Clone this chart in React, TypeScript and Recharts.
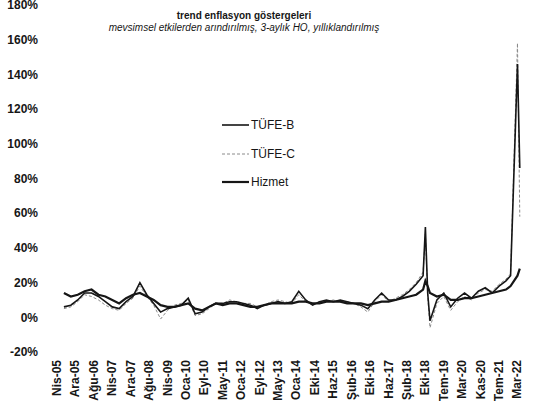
import React from 'react';
import { LineChart, Line, XAxis, YAxis } from 'recharts';

// month index: 0 = Nis-05, one step per month
const monthIdx = [
  3, 6, 9, 12, 15, 18, 21, 24, 27, 30, 33, 36, 39, 42, 45, 48, 51, 54, 57, 60,
  63, 66, 69, 72, 75, 78, 81, 84, 87, 90, 93, 96, 99, 102, 105, 108, 111, 114, 117, 120,
  123, 126, 129, 132, 135, 138, 141, 144, 147, 150, 153, 156, 159, 160, 161, 162, 165, 168, 171, 174,
  177, 180, 183, 186, 189, 192, 195, 197, 200, 201,
];

const tufeB = [
  6, 7, 10, 14, 14, 12, 9, 6, 5, 9, 12, 20, 13, 8, 3, 5, 6, 7, 11, 2,
  3, 6, 8, 8, 9, 9, 8, 7, 5, 7, 8, 9, 8, 9, 15, 10, 7, 9, 10, 9,
  10, 9, 8, 7, 5, 10, 14, 10, 10, 12, 15, 19, 24, 52, 14, -2, 10, 14, 6, 11,
  14, 11, 15, 17, 14, 18, 21, 24, 146, 86,
];

const tufeC = [
  5, 6, 9, 13, 12, 10, 7, 5, 4, 8, 11, 18, 12, 7, -1, 4, 7, 8, 10, 1,
  2, 5, 8, 8, 10, 9, 8, 8, 6, 7, 9, 10, 9, 8, 13, 9, 7, 9, 9, 10,
  9, 9, 8, 6, 3, 9, 13, 9, 11, 13, 16, 20, 26, 48, 12, -6, 8, 12, 4, 9,
  12, 10, 14, 16, 15, 19, 22, 25, 158, 58,
];

const hizmet = [
  14, 12, 13, 15, 16, 13, 12, 10, 8, 11, 13, 14, 12, 10, 7, 6, 6, 7, 8, 5,
  4, 6, 8, 7, 8, 8, 7, 6, 6, 7, 8, 8, 8, 8, 9, 9, 8, 8, 9, 9,
  9, 8, 8, 8, 7, 8, 9, 9, 10, 11, 12, 13, 16, 21, 18, 14, 12, 13, 10, 10,
  11, 11, 12, 13, 14, 15, 16, 18, 24, 28,
];

const xTickIdx = [
  0, 8, 16, 24, 32, 40, 48, 56, 64, 72, 80, 88, 96, 104, 112, 120, 128, 136, 144, 152,
  160, 168, 176, 184, 192, 200,
];
const xTickLabels = [
  'Nis-05', 'Ara-05', 'Ağu-06', 'Nis-07', 'Ara-07', 'Ağu-08', 'Nis-09', 'Oca-10', 'Eyl-10', 'May-11',
  'Oca-12', 'Eyl-12', 'May-13', 'Oca-14', 'Eki-14', 'Haz-15', 'Şub-16', 'Eki-16', 'Haz-17', 'Şub-18',
  'Eki-18', 'Tem-19', 'Mar-20', 'Kas-20', 'Tem-21', 'Mar-22',
];
const yTicks = [-20, 0, 20, 40, 60, 80, 100, 120, 140, 160, 180];

const seriesNames = ['TÜFE-B', 'TÜFE-C', 'Hizmet'];

const data = monthIdx.map((m, i) => ({
  m,
  b: tufeB[i],
  c: tufeC[i],
  h: hizmet[i],
}));

const font = '"Liberation Sans", Arial, sans-serif';
const ink = '#161616';

const XTick = (props: any) => {
  const { x, y, payload } = props;
  const label = xTickLabels[xTickIdx.indexOf(payload.value)];
  return (
    <g transform={`translate(${x},${y})`}>
      <text
        transform="rotate(-90)"
        textAnchor="end"
        dominantBaseline="central"
        fontFamily={font}
        fontSize={12}
        fontWeight={600}
        fill={ink}
      >
        {label}
      </text>
    </g>
  );
};

const legendStyles = [
  { stroke: ink, width: 1.6, dash: undefined },
  { stroke: '#8a8a8a', width: 1, dash: '3 2' },
  { stroke: ink, width: 2.2, dash: undefined },
];

const LegendBox = () => (
  <div style={{ position: 'absolute', left: 222, top: 111, fontFamily: font, fontSize: 12, color: ink }}>
    {seriesNames.map((n, i) => (
      <div key={n} style={{ display: 'flex', alignItems: 'center', height: 28.5 }}>
        <svg width={27} height={6} style={{ marginRight: 2 }}>
          <line
            x1={0}
            y1={3}
            x2={27}
            y2={3}
            stroke={legendStyles[i].stroke}
            strokeWidth={legendStyles[i].width}
            strokeDasharray={legendStyles[i].dash}
          />
        </svg>
        <span>{n}</span>
      </div>
    ))}
  </div>
);

export default function App() {
  return (
    <div style={{ position: 'absolute', left: 0, top: 0, width: 534, height: 414, background: '#fff' }}>
      <div
        style={{
          position: 'absolute',
          left: 0,
          width: 488,
          top: 10,
          textAlign: 'center',
          fontFamily: font,
          fontSize: 10,
          fontWeight: 700,
          color: ink,
        }}
      >
        trend enflasyon göstergeleri
      </div>
      <div
        style={{
          position: 'absolute',
          left: 0,
          width: 488,
          top: 22,
          textAlign: 'center',
          fontFamily: font,
          fontSize: 10,
          fontStyle: 'italic',
          color: ink,
        }}
      >
        mevsimsel etkilerden arındırılmış, 3-aylık HO, yıllıklandırılmış
      </div>
      <LineChart width={534} height={414} data={data} margin={{ top: 5, right: 5, bottom: 0, left: 0 }}>
        <XAxis
          dataKey="m"
          type="number"
          domain={[0, 205]}
          ticks={xTickIdx}
          interval={0}
          axisLine={false}
          tickLine={false}
          tickSize={0}
          tickMargin={8}
          height={62}
          tick={<XTick />}
        />
        <YAxis
          domain={[-20, 180]}
          ticks={yTicks}
          interval={0}
          width={57}
          axisLine={false}
          tickLine={false}
          tickSize={0}
          tickMargin={19}
          tickFormatter={(v: number) => `${v}%`}
          tick={{ fontFamily: font, fontSize: 12, fontWeight: 600, fill: ink }}
        />
        <Line
          dataKey="c"
          name={seriesNames[1]}
          stroke="#8a8a8a"
          strokeWidth={1}
          strokeDasharray="3 2"
          dot={false}
          isAnimationActive={false}
        />
        <Line
          dataKey="b"
          name={seriesNames[0]}
          stroke={ink}
          strokeWidth={1.6}
          dot={false}
          isAnimationActive={false}
        />
        <Line
          dataKey="h"
          name={seriesNames[2]}
          stroke={ink}
          strokeWidth={2.2}
          dot={false}
          isAnimationActive={false}
        />
      </LineChart>
      <LegendBox />
    </div>
  );
}
